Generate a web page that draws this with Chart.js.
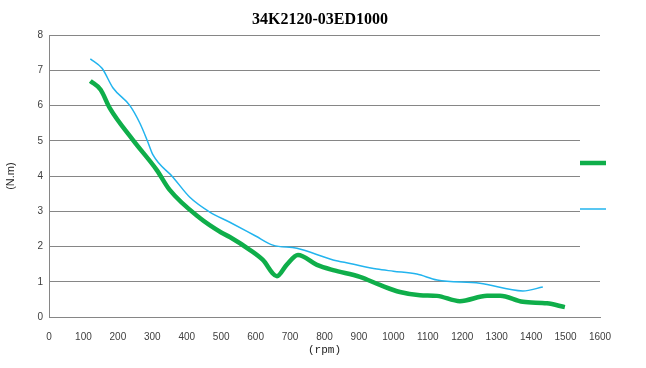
<!DOCTYPE html>
<html>
<head>
<meta charset="utf-8">
<script src="https://cdn.jsdelivr.net/npm/chart.js@4/dist/chart.umd.min.js"></script>
<style>
html,body{margin:0;padding:0;background:#fff;}
#wrap{width:646px;height:368px;position:relative;}
</style>
</head>
<body>
<div id="wrap"><canvas id="c" width="646" height="368"></canvas></div>
<script>
const chartTitle = '34K2120-03ED1000';
const xTitle = '(rpm)';
const yTitle = '(N.m)';

const greenRpm    = [120, 150, 177, 244, 313, 351, 438, 500, 525, 584, 621, 662, 690, 723, 778, 825, 903, 961, 1019, 1077, 1127, 1193, 1272, 1310, 1376, 1446, 1498];
const greenTorque = [6.70, 6.45, 5.92, 5.02, 4.17, 3.60, 2.81, 2.40, 2.27, 1.90, 1.62, 1.16, 1.48, 1.76, 1.48, 1.33, 1.14, 0.91, 0.71, 0.62, 0.60, 0.45, 0.60, 0.60, 0.43, 0.39, 0.28];

const blueRpm    = [120, 154, 186, 235, 264, 285, 302, 360, 409, 467, 525, 600, 650, 720, 825, 874, 952, 1000, 1068, 1127, 1251, 1376, 1434];
const blueTorque = [7.33, 7.06, 6.50, 6.00, 5.50, 5.02, 4.60, 3.97, 3.40, 2.98, 2.69, 2.30, 2.04, 1.95, 1.62, 1.52, 1.36, 1.30, 1.22, 1.05, 0.96, 0.74, 0.85];

const xMin = 0, xMax = 1600, xStep = 100;
const yMin = 0, yMax = 8, yStep = 1;

const toPts = (xs, ys) => xs.map((x, i) => ({x: x, y: ys[i]}));

const legendPlugin = {
  id: 'sideLegend',
  afterDraw(chart) {
    const ctx = chart.ctx;
    const area = chart.chartArea;
    ctx.save();
    ctx.fillStyle = '#ffffff';
    ctx.fillRect(area.right - 20, 126, 66, 128);
    const ds = chart.data.datasets;
    const rows = [163, 209];
    ds.forEach((d, i) => {
      ctx.strokeStyle = d.borderColor;
      ctx.lineWidth = d.borderWidth;
      ctx.beginPath();
      ctx.moveTo(area.right - 20, rows[i]);
      ctx.lineTo(area.right + 6, rows[i]);
      ctx.stroke();
    });
    ctx.restore();
  }
};

new Chart(document.getElementById('c'), {
  type: 'line',
  data: {
    datasets: [
      {
        label: 'A',
        data: toPts(greenRpm, greenTorque),
        borderColor: '#0fae4a',
        borderWidth: 4.5,
        pointRadius: 0,
        tension: 0.4,
        cubicInterpolationMode: 'monotone',
        fill: false
      },
      {
        label: 'B',
        data: toPts(blueRpm, blueTorque),
        borderColor: '#22b4ee',
        borderWidth: 1.5,
        pointRadius: 0,
        tension: 0.4,
        cubicInterpolationMode: 'monotone',
        fill: false
      }
    ]
  },
  options: {
    responsive: false,
    animation: false,
    devicePixelRatio: 1,
    layout: { padding: { left: 0, right: 6, top: 0, bottom: 0 } },
    plugins: {
      legend: { display: false },
      tooltip: { enabled: false },
      title: {
        display: true,
        text: chartTitle,
        color: '#000',
        font: { family: 'Liberation Serif', size: 16, weight: 'bold' },
        padding: { top: 10, bottom: 6 }
      }
    },
    scales: {
      x: {
        type: 'linear',
        min: xMin, max: xMax,
        ticks: { stepSize: xStep, color: '#404040', font: { family: 'Liberation Sans', size: 10 }, padding: 6, maxRotation: 0, autoSkip: false,
                 callback: v => String(v) },
        grid: { display: false },
        border: { display: true, color: '#868686', width: 1 },
        title: { display: true, text: xTitle, color: '#222', font: { family: 'Liberation Mono', size: 11 }, padding: { top: 0, bottom: 11 } },
        afterFit(s) { s.height = 51; }
      },
      y: {
        min: yMin, max: yMax,
        ticks: { stepSize: yStep, color: '#404040', font: { family: 'Liberation Sans', size: 10 }, padding: 6 },
        grid: { color: '#868686', lineWidth: 1, drawTicks: false },
        border: { display: true, color: '#868686', width: 1 },
        title: { display: true, text: yTitle, color: '#222', font: { family: 'Liberation Sans', size: 11 }, padding: { top: 4, bottom: 0 } },
        afterFit(s) { s.width = 49; }
      },
      yRight: {
        position: 'right',
        min: yMin, max: yMax,
        ticks: { display: false },
        grid: { display: false },
        border: { display: false },
        afterFit(s) { s.width = 40; }
      }
    }
  },
  plugins: [legendPlugin]
});
</script>
</body>
</html>
